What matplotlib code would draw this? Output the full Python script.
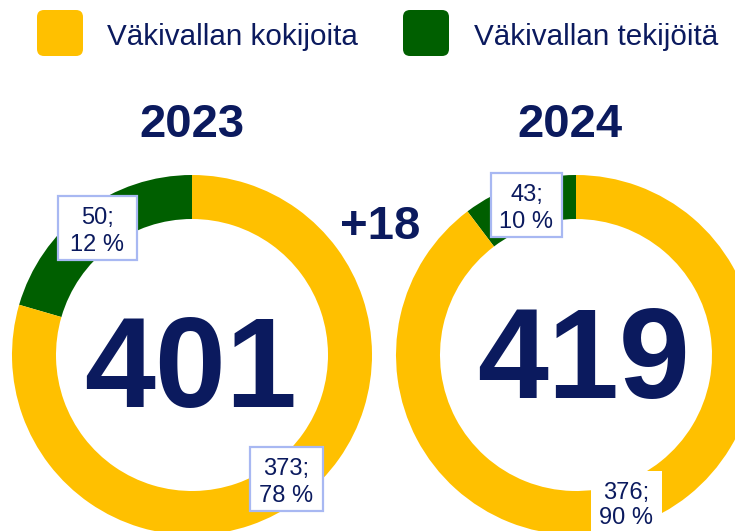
import matplotlib.pyplot as plt
from matplotlib.patches import FancyBboxPatch, Rectangle

# data
years = ['2023', '2024']
totals = [401, 419]
series = ['Väkivallan kokijoita', 'Väkivallan tekijöitä']
victims = [373, 376]
victims_pct = [78, 90]
perpetrators = [50, 43]
perpetrators_pct = [12, 10]
# share of the ring drawn green / yellow (as seen in the picture)
ring_green = [20.5, 10.3]
ring_yellow = [79.5, 89.7]

YELLOW = '#FFC000'
GREEN = '#005F00'
NAVY = '#0B1A5E'
EDGE = '#A8B8F2'
W, H = 735, 531

plt.rcParams['font.family'] = ['Liberation Sans', 'DejaVu Sans']

fig = plt.figure(figsize=(W / 100, H / 100), dpi=100)
ax = fig.add_axes([0, 0, 1, 1])


def Y(y):
    # image pixel row -> data y
    return H - y


centers = [(192, 355), (576, 355)]
for i, (cx, cy) in enumerate(centers):
    ax.pie([ring_green[i], ring_yellow[i]], colors=[GREEN, YELLOW],
           startangle=90, counterclock=True, radius=180,
           center=(cx, Y(cy)), wedgeprops=dict(width=44, linewidth=0))

ax.set_xlim(0, W)
ax.set_ylim(0, H)
ax.set_aspect('equal')
ax.axis('off')

# legend
for x0, tx, col, name in [(37, 107, YELLOW, series[0]), (403, 474, GREEN, series[1])]:
    ax.add_patch(FancyBboxPatch((x0 + 4, Y(56) + 4), 38, 38,
                                boxstyle='round,pad=4,rounding_size=7',
                                facecolor=col, edgecolor='none'))
    ax.text(tx, Y(45), name, fontsize=21.3, color=NAVY, va='baseline', ha='left')

# years and totals
ax.text(192, Y(137), years[0], fontsize=34, fontweight='bold', color=NAVY,
        ha='center', va='baseline')
ax.text(570, Y(137), years[1], fontsize=34, fontweight='bold', color=NAVY,
        ha='center', va='baseline')
ax.text(380, Y(239), f'+{totals[1] - totals[0]}', fontsize=34, fontweight='bold',
        color=NAVY, ha='center', va='baseline')
ax.text(191, Y(407), str(totals[0]), fontsize=92, fontweight='bold', color=NAVY,
        ha='center', va='baseline')
ax.text(584, Y(398), str(totals[1]), fontsize=92, fontweight='bold', color=NAVY,
        ha='center', va='baseline')

# value label boxes: (x0, y0, x1, y1, bordered, value, pct, baseline1, baseline2)
boxes = [
    (58, 196, 137, 260, True, perpetrators[0], perpetrators_pct[0], 224, 251),
    (250, 447, 323, 511, True, victims[0], victims_pct[0], 475, 502),
    (491, 173, 562, 237, True, perpetrators[1], perpetrators_pct[1], 201, 228),
    (591, 471, 662, 540, False, victims[1], victims_pct[1], 499, 524),
]
for x0, y0, x1, y1, border, val, pct, b1, b2 in boxes:
    ax.add_patch(Rectangle((x0, Y(y1)), x1 - x0, y1 - y0, facecolor='white',
                           edgecolor=EDGE if border else 'none', linewidth=1.6,
                           zorder=3))
    xc = (x0 + x1) / 2
    ax.text(xc, Y(b1), f'{val};', fontsize=17, color=NAVY, ha='center',
            va='baseline', zorder=4)
    ax.text(xc, Y(b2), f'{pct} %', fontsize=17, color=NAVY, ha='center',
            va='baseline', zorder=4)

fig.savefig('out.png', dpi=100, facecolor='white')
